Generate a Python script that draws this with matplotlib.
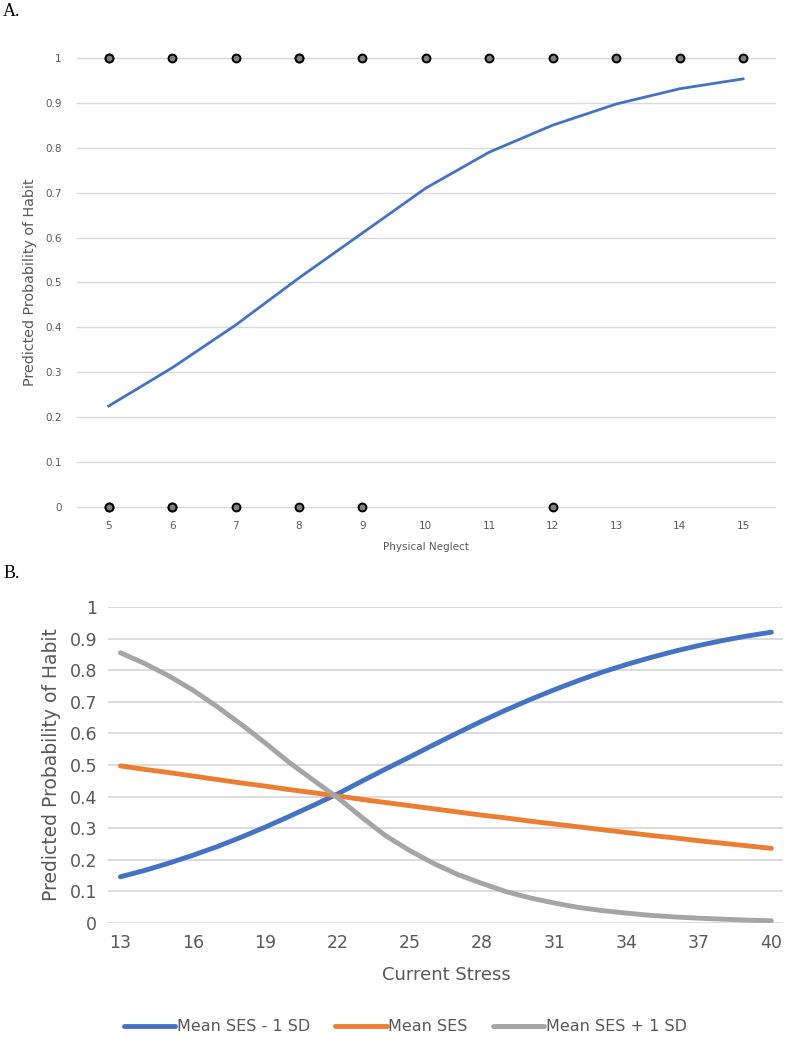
import matplotlib
matplotlib.use("Agg")
import matplotlib.pyplot as plt

# Panel A data: physical neglect vs predicted probability
neglect = [5, 6, 7, 8, 9, 10, 11, 12, 13, 14, 15]
prob_a = [0.225, 0.31, 0.405, 0.51, 0.61, 0.71, 0.79, 0.85, 0.897, 0.931, 0.953]
obs_x_one = [5, 5, 6, 7, 8, 8, 9, 10, 11, 12, 13, 14, 15]
obs_x_zero = [5, 5, 6, 6, 7, 8, 9, 12]

# Panel B data: current stress by SES level
stress = list(range(13, 41))
ses_low = [0.146, 0.166, 0.189, 0.214, 0.241, 0.271, 0.303, 0.337, 0.372, 0.408,
           0.448, 0.487, 0.525, 0.564, 0.602, 0.639, 0.674, 0.707, 0.738, 0.767,
           0.794, 0.818, 0.840, 0.860, 0.878, 0.894, 0.908, 0.920]
ses_mean = [0.497, 0.486, 0.476, 0.465, 0.454, 0.443, 0.433, 0.422, 0.412, 0.402,
            0.391, 0.381, 0.371, 0.361, 0.351, 0.341, 0.332, 0.322, 0.313, 0.304,
            0.295, 0.286, 0.277, 0.269, 0.260, 0.252, 0.244, 0.236]
ses_high = [0.855, 0.821, 0.782, 0.737, 0.685, 0.629, 0.570, 0.508, 0.452, 0.397,
            0.335, 0.276, 0.229, 0.188, 0.153, 0.125, 0.099, 0.079, 0.063, 0.049,
            0.039, 0.031, 0.024, 0.019, 0.015, 0.012, 0.009, 0.007]
series_labels = ["Mean SES - 1 SD", "Mean SES", "Mean SES + 1 SD"]
series_colors = ["#4472C4", "#ED7D31", "#A5A5A5"]

txt = "#595959"
grid = "#d9d9d9"

fig = plt.figure(figsize=(7.85, 10.5), dpi=100)

# ---- Panel A ----
ax1 = fig.add_axes([0.098, 0.517, 0.889, 0.428])
for yv in [i / 10 for i in range(11)]:
    ax1.axhline(yv, color=grid, lw=1, zorder=0, clip_on=False)
ax1.plot(neglect, prob_a, color="#4472C4", lw=2, zorder=3)
ax1.scatter(obs_x_one, [1] * len(obs_x_one), s=32, c="#808080", edgecolors="black",
            linewidths=1.4, zorder=4, clip_on=False)
ax1.scatter(obs_x_zero, [0] * len(obs_x_zero), s=32, c="#808080", edgecolors="black",
            linewidths=1.4, zorder=4, clip_on=False)
ax1.set_xlim(4.5, 15.5)
ax1.set_ylim(0, 1)
ax1.set_xticks(neglect)
ax1.set_yticks([i / 10 for i in range(11)])
ax1.set_yticklabels(["0"] + ["0.%d" % i for i in range(1, 10)] + ["1"])
ax1.tick_params(length=0, labelsize=7.5, colors=txt, pad=10)
ax1.tick_params(axis="y", pad=11)
for s in ax1.spines.values():
    s.set_visible(False)
ax1.set_xlabel("Physical Neglect", fontsize=7.5, color=txt, labelpad=8)
ax1.set_ylabel("Predicted Probability of Habit", fontsize=10.3, color=txt, labelpad=6)
fig.text(0.004, 0.997, "A.", family="Liberation Serif", fontsize=13, va="top")

# ---- Panel B ----
ax2 = fig.add_axes([0.138, 0.121, 0.86, 0.301])
for yv in [i / 10 for i in range(11)]:
    ax2.axhline(yv, color=grid, lw=1.3, zorder=0)
for vals, lab, col in zip([ses_low, ses_mean, ses_high], series_labels, series_colors):
    ax2.plot(stress, vals, color=col, lw=3.5, label=lab, zorder=3,
             solid_capstyle="round")
ax2.set_xlim(12.5, 40.5)
ax2.set_ylim(0, 1)
ax2.set_xticks(stress[::3])
ax2.set_yticks([i / 10 for i in range(11)])
ax2.set_yticklabels(["0"] + ["0.%d" % i for i in range(1, 10)] + ["1"])
ax2.tick_params(length=0, labelsize=12.5, colors=txt, pad=8)
for s in ax2.spines.values():
    s.set_visible(False)
ax2.set_xlabel("Current Stress", fontsize=13, color=txt, labelpad=10)
ax2.set_ylabel("Predicted Probability of Habit", fontsize=13.5, color=txt, labelpad=6)
leg = ax2.legend(loc="upper center", bbox_to_anchor=(0.44, -0.26), ncol=3,
                 frameon=False, fontsize=11.5, handlelength=3.2, handletextpad=0.1,
                 columnspacing=1.6)
for t in leg.get_texts():
    t.set_color(txt)
fig.text(0.004, 0.462, "B.", family="Liberation Serif", fontsize=13, va="top")

fig.savefig("out.png", dpi=100, facecolor="white")
